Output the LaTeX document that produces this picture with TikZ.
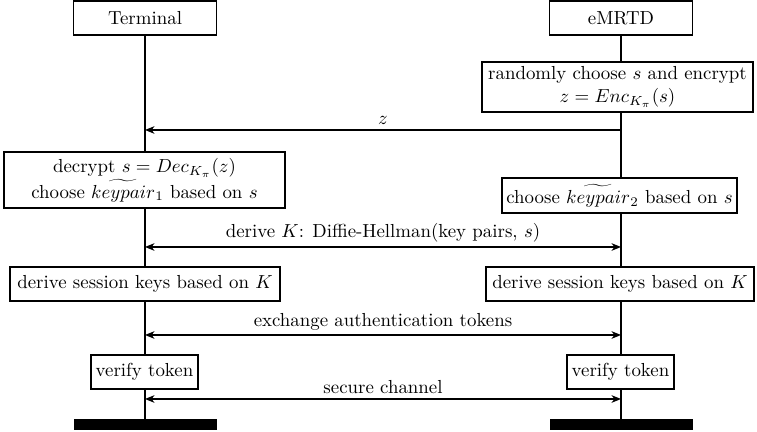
\documentclass[tikz,border=0pt]{standalone}
\usetikzlibrary{arrows.meta}
\begin{document}
\begin{tikzpicture}[x=0.53pt,y=-0.53pt,
  bx/.style 2 args={draw, line width=0.55pt, fill=white, inner sep=0pt, align=center,
    minimum width={#1*0.53pt}, minimum height={#2*0.53pt}},
  life/.style={line width=0.6pt},
  msg/.style={line width=0.7pt, >={Stealth[length=5pt,width=4pt,inset=1.5pt]}},
  lbl/.style={above=#1},
  bar/.style={fill=black, draw=none, inner sep=0pt, minimum width={#1*0.53pt}, minimum height={11*0.53pt}}]
  \useasboundingbox (0,0) rectangle (757,432);

  % participants
  \node[bx={143}{34}] (term) at (145,18) {Terminal};
  \node[bx={143}{34}] (emrtd) at (621,18) {eMRTD};
  \node[bar=143] (termend) at (145,424.5) {};
  \node[bar=143] (emrtdend) at (621,424.5) {};

  % lifelines
  \draw[life] (term.south) -- (termend.north);
  \draw[life] (emrtd.south) -- (emrtdend.north);

  % eMRTD picks the nonce
  \node[bx={271}{50}] (enc) at (617.5,87) {randomly choose $s$ and encrypt\\ $z = Enc_{K_\pi}(s)$};

  \coordinate (zR) at (621,130);
  \coordinate (zL) at (145,130);
  \draw[msg,->] (zR) -- node[lbl=-1pt] {$z$} (zL);

  % both sides derive their key pairs
  \node[bx={281}{56}] (dec) at (144.5,180) {decrypt $s = Dec_{K_\pi}(z)$\\ choose $\widetilde{keypair}{}_1$ based on $s$};
  \node[bx={235}{35}] (kp2) at (619.5,195.5) {choose $\widetilde{keypair}{}_2$ based on $s$};

  \coordinate (dhL) at (145,247);
  \coordinate (dhR) at (621,247);
  \draw[msg,<->] (dhL) -- node[lbl=-1pt] {derive $K$: Diffie-Hellman(key pairs, $s$)} (dhR);

  % session keys
  \node[bx={270}{34}] (skL) at (145,284) {derive session keys based on $K$};
  \node[bx={268}{34}] (skR) at (620,284) {derive session keys based on $K$};

  \coordinate (exL) at (145,335);
  \coordinate (exR) at (621,335);
  \draw[msg,<->] (exL) -- node[lbl=-1pt] {exchange authentication tokens} (exR);

  % token check
  \node[bx={107}{34}] (vL) at (144.5,372) {verify token};
  \node[bx={107}{34}] (vR) at (620.5,372) {verify token};

  \coordinate (scL) at (145,399);
  \coordinate (scR) at (621,399);
  \draw[msg,<->] (scL) -- node[lbl=-0.8pt] {secure channel} (scR);
\end{tikzpicture}
\end{document}
